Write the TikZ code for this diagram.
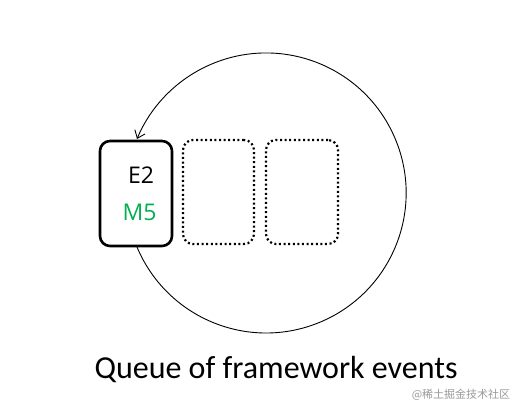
\documentclass[tikz,border=0pt]{standalone}
\usepackage{fontspec}
\setmainfont{Carlito}
\newfontfamily\cjkfont{Noto Sans CJK SC}
\newfontfamily\labfont{Open Sans}
\usetikzlibrary{arrows.meta}
\definecolor{mgreen}{HTML}{00B050}
\begin{document}
\begin{tikzpicture}[x=1pt,y=-1pt,
  slot/.style={draw, line width=2.2pt, dash pattern=on 2pt off 2.6pt, rounded corners=10pt},
  mainslot/.style={draw, line width=2.6pt, rounded corners=10pt},
  lab/.style={font=\labfont\fontsize{23}{26}\selectfont}]
\useasboundingbox (0,0) rectangle (523,413);
\coordinate (c) at (266,193);
\coordinate (a1) at (137,247);
\draw[line width=0.9pt, -{Straight Barb[length=7pt,width=11pt]}] (a1) arc[start angle=157.3, end angle=-157.3, radius=140];
\draw[mainslot] (100,141) rectangle (172,246);
\node[slot, minimum width=71pt, minimum height=104pt] (s2) at (218.5,192) {};
\node[slot, minimum width=72pt, minimum height=104pt] (s3) at (302,192) {};
\node[lab] (e2) at (141,175) {E2};
\node[lab, text=mgreen] (m5) at (139.5,212) {M5};
\node[font=\fontsize{32}{36}\selectfont, anchor=base] (t) at (276,378) {Queue of framework events};
\node[font=\cjkfont\fontsize{11}{13}\selectfont, text=black!40, anchor=base] (w) at (461,398) {@稀土掘金技术社区};
\end{tikzpicture}
\end{document}
